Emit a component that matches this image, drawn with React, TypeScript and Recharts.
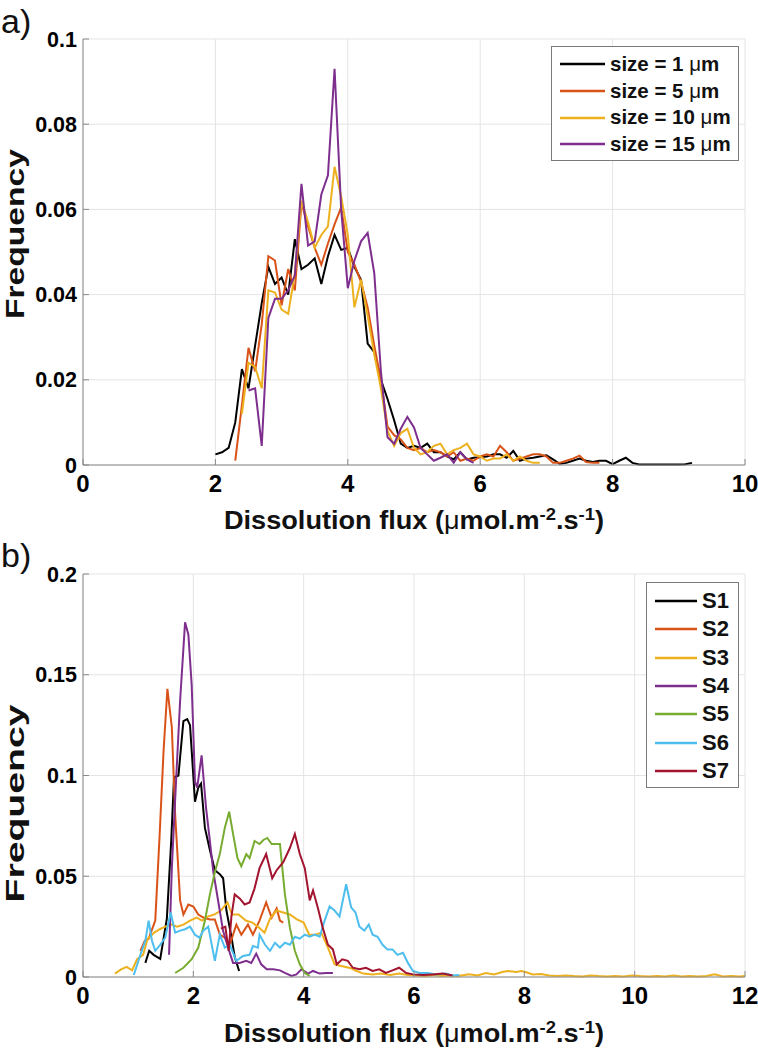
import React from 'react';
import { LineChart, Line, XAxis, YAxis, CartesianGrid, Legend } from 'recharts';

const FONT = '"Liberation Sans", Arial, Helvetica, sans-serif';
const AXIS = '#8a8a8a';
const GRID = '#e4e4e4';

// ---------- Panel a ----------
const fluxTicksA = [0, 2, 4, 6, 8, 10];
const freqTicksA = [0, 0.02, 0.04, 0.06, 0.08, 0.1];
const freqTickLabelsA = ['0', '0.02', '0.04', '0.06', '0.08', '0.1'];

const binsA = [
  2.0, 2.1, 2.2, 2.3, 2.4, 2.5, 2.6, 2.7, 2.8, 2.9,
  3.0, 3.1, 3.2, 3.3, 3.4, 3.5, 3.6, 3.7, 3.8, 3.9,
  4.0, 4.1, 4.2, 4.3, 4.4, 4.5, 4.6, 4.7, 4.8, 4.9,
  5.0, 5.1, 5.2, 5.3, 5.4, 5.5, 5.6, 5.7, 5.8, 5.9,
  6.0, 6.1, 6.2, 6.3, 6.4, 6.5, 6.6, 6.7, 6.8, 6.9,
  7.0, 7.1, 7.2, 7.3, 7.4, 7.5, 7.6, 7.7, 7.8, 7.9,
  8.0, 8.1, 8.2, 8.3, 8.4, 8.5, 8.6, 8.7, 8.8, 8.9,
  9.0, 9.1, 9.2,
];

const size1From = 2.0;
const size1 = [
  0.0025, 0.003, 0.004, 0.01, 0.0225, 0.018, 0.028, 0.038, 0.0465, 0.0425,
  0.044, 0.04, 0.053, 0.046, 0.047, 0.0485, 0.0425, 0.049, 0.054, 0.0505,
  0.051, 0.0465, 0.0435, 0.0285, 0.0265, 0.02, 0.0155, 0.0105, 0.005, 0.004,
  0.0045, 0.004, 0.005, 0.003, 0.003, 0.002, 0.0013, 0.003, 0.0013, 0.0017,
  0.0018, 0.002, 0.0025, 0.0025, 0.0017, 0.0033, 0.001, 0.0015, 0.0017, 0.002,
  0.0023, 0.0013, 0.0003, 0.0005, 0.001, 0.0015, 0.001, 0.0007, 0.001, 0.001,
  0.0002, 0.001, 0.0017, 0.0005, 0.0001, 0.0001, 0.0001, 0.0001, 0.0001, 0.0001,
  0.0001, 0.0002, 0.0005,
];

const size5From = 2.3;
const size5 = [
  0.001, 0.014, 0.0275, 0.022, 0.033, 0.049, 0.048,
  0.0375, 0.046, 0.041, 0.0615, 0.056, 0.051, 0.047, 0.052, 0.0565, 0.0605,
  0.05, 0.047, 0.043, 0.037, 0.028, 0.02, 0.009, 0.007, 0.006, 0.004,
  0.0035, 0.004, 0.003, 0.0035, 0.003, 0.002, 0.003, 0.001, 0.0015, 0.001,
  0.002, 0.0025, 0.002, 0.0045, 0.003, 0.001, 0.0015, 0.002, 0.0025, 0.0025,
  0.002, 0.0005, 0.0005, 0.001, 0.0015, 0.0022, 0.0007, 0.0005, 0.0005,
];

const size10From = 2.4;
const size10 = [
  0.012, 0.024, 0.023, 0.018, 0.041, 0.0405,
  0.0365, 0.0355, 0.045, 0.062, 0.057, 0.051, 0.054, 0.056, 0.07, 0.063,
  0.054, 0.037, 0.0435, 0.035, 0.026, 0.018, 0.008, 0.0045, 0.0075, 0.0085,
  0.004, 0.0025, 0.003, 0.0045, 0.005, 0.0025, 0.0035, 0.004, 0.005, 0.0025,
  0.002, 0.001, 0.0015, 0.0015, 0.0025, 0.001, 0.002, 0.001, 0.0005, 0.0005,
];

const size15From = 2.5;
const size15 = [
  0.0175, 0.018, 0.0045, 0.0345, 0.039,
  0.039, 0.041, 0.0445, 0.066, 0.0515, 0.0525, 0.0635, 0.068, 0.093, 0.06,
  0.0415, 0.048, 0.0525, 0.0545, 0.045, 0.022, 0.0065, 0.005, 0.0085, 0.0113,
  0.0088, 0.004, 0.0025, 0.001, 0.0017, 0.0025, 0.0005, 0.003, 0.0013, 0.0005,
];

const seriesA = [
  { key: 's1', name: 'size = 1 μm', color: '#000000', values: size1, from: size1From },
  { key: 's5', name: 'size = 5 μm', color: '#D95319', values: size5, from: size5From },
  { key: 's10', name: 'size = 10 μm', color: '#EDB120', values: size10, from: size10From },
  { key: 's15', name: 'size = 15 μm', color: '#7E2F8E', values: size15, from: size15From },
];

const tableA = binsA.map((flux, i) => {
  const row: any = { flux };
  seriesA.forEach((s) => {
    const k = i - Math.round((s.from - binsA[0]) * 10);
    row[s.key] = k >= 0 && k < s.values.length ? s.values[k] : null;
  });
  return row;
});

// ---------- Panel b ----------
const fluxTicksB = [0, 2, 4, 6, 8, 10, 12];
const freqTicksB = [0, 0.05, 0.1, 0.15, 0.2];
const freqTickLabelsB = ['0', '0.05', '0.1', '0.15', '0.2'];

// [flux, frequency]
const s1 = [
  [1.13, 0.007], [1.2, 0.013], [1.28, 0.011], [1.4, 0.009], [1.52, 0.029], [1.6, 0.068],
  [1.65, 0.099], [1.73, 0.1], [1.82, 0.127], [1.89, 0.128], [1.94, 0.125], [2.03, 0.087],
  [2.09, 0.094], [2.14, 0.096], [2.21, 0.074], [2.3, 0.063], [2.39, 0.053], [2.48, 0.051],
  [2.54, 0.049], [2.6, 0.033], [2.69, 0.02], [2.75, 0.01], [2.83, 0.003],
];
const s2 = [
  [1.04, 0.013], [1.12, 0.018], [1.19, 0.019], [1.31, 0.028], [1.39, 0.071], [1.46, 0.112],
  [1.53, 0.143], [1.61, 0.124], [1.67, 0.081], [1.76, 0.038], [1.82, 0.031], [1.91, 0.036],
  [2.0, 0.035], [2.09, 0.031], [2.18, 0.0295], [2.3, 0.0285], [2.39, 0.0285], [2.48, 0.021],
  [2.57, 0.0195], [2.66, 0.016], [2.78, 0.026], [2.87, 0.021], [2.99, 0.026], [3.08, 0.021],
  [3.2, 0.028], [3.32, 0.037], [3.42, 0.0295], [3.51, 0.034], [3.57, 0.028], [3.63, 0.027],
];
const s3 = [
  [0.58, 0.0017], [0.69, 0.0038], [0.79, 0.005], [0.89, 0.0033], [0.98, 0.0088], [1.09, 0.011],
  [1.17, 0.019], [1.29, 0.022], [1.39, 0.0237], [1.49, 0.025], [1.6, 0.026], [1.71, 0.025],
  [1.82, 0.026], [1.94, 0.028], [2.06, 0.0295], [2.16, 0.028], [2.26, 0.03], [2.38, 0.031],
  [2.5, 0.033], [2.62, 0.037], [2.7, 0.031], [2.82, 0.031], [2.95, 0.028], [3.07, 0.027],
  [3.19, 0.0245], [3.29, 0.022], [3.39, 0.029], [3.51, 0.033], [3.63, 0.032], [3.75, 0.031],
  [3.87, 0.0287], [4.0, 0.027], [4.1, 0.021], [4.21, 0.021], [4.32, 0.022], [4.44, 0.0146],
  [4.56, 0.0063], [4.68, 0.0055], [4.84, 0.0045], [4.96, 0.003], [5.08, 0.0017], [5.25, 0.0013],
  [5.4, 0.0017], [5.57, 0.001], [5.73, 0.0017], [5.89, 0.001], [6.05, 0.0008], [6.2, 0.0005],
  [6.35, 0.001], [6.5, 0.0005], [6.65, 0.0008], [6.8, 0.0005], [7.0, 0.0013], [7.15, 0.0008],
  [7.3, 0.002], [7.45, 0.0013], [7.6, 0.0025], [7.7, 0.003], [7.85, 0.0025], [7.95, 0.003],
  [8.05, 0.0022], [8.15, 0.0013], [8.3, 0.0015], [8.45, 0.0008], [8.6, 0.0005], [8.75, 0.0008],
  [8.9, 0.0005], [9.05, 0.0003], [9.2, 0.0008], [9.35, 0.0005], [9.5, 0.0003], [9.65, 0.0005],
  [9.8, 0.0003], [9.95, 0.0008], [10.1, 0.0005], [10.25, 0.0003], [10.4, 0.0005], [10.55, 0.0003],
  [10.7, 0.0008], [10.85, 0.0003], [11.0, 0.0005], [11.15, 0.0003], [11.3, 0.0005], [11.45, 0.0013],
  [11.6, 0.0003], [11.75, 0.0005], [11.9, 0.0003], [12.0, 0.0005],
];
const s4 = [
  [1.56, 0.011], [1.61, 0.054], [1.69, 0.099], [1.76, 0.137], [1.85, 0.176], [1.91, 0.17],
  [1.97, 0.145], [2.03, 0.097], [2.07, 0.094], [2.15, 0.11], [2.23, 0.084], [2.3, 0.0675],
  [2.36, 0.0526], [2.45, 0.0377], [2.54, 0.0228], [2.63, 0.0146], [2.72, 0.007], [2.84, 0.007],
  [2.96, 0.008], [3.05, 0.007], [3.14, 0.0116], [3.23, 0.0063], [3.33, 0.0038], [3.45, 0.0038],
  [3.57, 0.0033], [3.66, 0.002], [3.78, 0.0005], [3.87, 0.0013], [3.96, 0.0038], [4.08, 0.0017],
  [4.17, 0.003], [4.29, 0.0017], [4.41, 0.002], [4.53, 0.002],
];
const s5 = [
  [1.67, 0.002], [1.82, 0.0046], [1.97, 0.0088], [2.09, 0.0146], [2.21, 0.028], [2.3, 0.041],
  [2.39, 0.052], [2.48, 0.061], [2.57, 0.074], [2.65, 0.082], [2.72, 0.071], [2.8, 0.059],
  [2.87, 0.055], [2.96, 0.061], [3.02, 0.059], [3.11, 0.0675], [3.2, 0.066], [3.27, 0.068],
  [3.34, 0.069], [3.42, 0.066], [3.51, 0.066], [3.57, 0.066], [3.66, 0.041], [3.75, 0.0245],
  [3.84, 0.013], [3.93, 0.0063], [4.02, 0.002], [4.11, 0.0005],
];
const s6 = [
  [0.92, 0.001], [1.04, 0.011], [1.13, 0.018], [1.19, 0.028], [1.25, 0.018], [1.31, 0.013],
  [1.4, 0.016], [1.49, 0.0195], [1.59, 0.032], [1.67, 0.022], [1.76, 0.023], [1.85, 0.0237],
  [1.94, 0.025], [2.03, 0.021], [2.11, 0.0195], [2.18, 0.023], [2.27, 0.025], [2.39, 0.008],
  [2.48, 0.021], [2.57, 0.0146], [2.66, 0.016], [2.78, 0.008], [2.9, 0.0104], [3.02, 0.011],
  [3.08, 0.0154], [3.17, 0.0146], [3.2, 0.021], [3.3, 0.016], [3.39, 0.013], [3.48, 0.017],
  [3.57, 0.0146], [3.66, 0.017], [3.75, 0.016], [3.84, 0.02], [3.93, 0.019], [4.02, 0.021],
  [4.11, 0.02], [4.2, 0.021], [4.29, 0.02], [4.38, 0.028], [4.47, 0.035], [4.56, 0.033],
  [4.65, 0.03], [4.77, 0.046], [4.86, 0.0346], [4.94, 0.032], [5.01, 0.025], [5.1, 0.023],
  [5.18, 0.026], [5.25, 0.021], [5.34, 0.02], [5.43, 0.016], [5.52, 0.0137], [5.61, 0.0137],
  [5.7, 0.011], [5.8, 0.012], [5.89, 0.007], [5.98, 0.003], [6.1, 0.002], [6.25, 0.002],
  [6.4, 0.0013], [6.58, 0.0017], [6.7, 0.0007], [6.82, 0.001],
];
const s7 = [
  [2.5, 0.024], [2.58, 0.025], [2.64, 0.013], [2.69, 0.03], [2.75, 0.041], [2.84, 0.039],
  [2.93, 0.036], [3.02, 0.037], [3.11, 0.044], [3.2, 0.054], [3.32, 0.061], [3.43, 0.049],
  [3.51, 0.053], [3.63, 0.057], [3.75, 0.064], [3.84, 0.071], [3.93, 0.061], [4.02, 0.054],
  [4.11, 0.038], [4.17, 0.043], [4.26, 0.034], [4.35, 0.024], [4.44, 0.016], [4.53, 0.0137],
  [4.6, 0.0063], [4.7, 0.0088], [4.8, 0.008], [4.89, 0.0046], [5.01, 0.0038], [5.13, 0.0046],
  [5.25, 0.003], [5.37, 0.0038], [5.49, 0.002], [5.61, 0.0033], [5.73, 0.0046], [5.86, 0.002],
  [5.98, 0.0013], [6.16, 0.001], [6.34, 0.0013], [6.52, 0.0017], [6.7, 0.0007],
];

const seriesB = [
  { name: 'S1', color: '#000000', points: s1 },
  { name: 'S2', color: '#D95319', points: s2 },
  { name: 'S3', color: '#EDB120', points: s3 },
  { name: 'S4', color: '#7E2F8E', points: s4 },
  { name: 'S5', color: '#77AC30', points: s5 },
  { name: 'S6', color: '#4DBEEE', points: s6 },
  { name: 'S7', color: '#A2142F', points: s7 },
];

// ---------- helpers ----------
const tickStyleX = { fill: '#000', fontSize: 24, fontWeight: 'bold' as const, fontFamily: FONT };
const tickStyleY = { fill: '#000', fontSize: 21.5, fontWeight: 'bold' as const, fontFamily: FONT };

const XTitle = (props: any) => {
  const { viewBox, dyBase } = props;
  const cx = viewBox.x + viewBox.width / 2;
  const y = viewBox.y + dyBase;
  return (
    <text x={cx} y={y} textAnchor="middle" fontFamily={FONT} fontWeight="bold" fontSize={25} fill="#111"
      textLength={380} lengthAdjust="spacingAndGlyphs">
      Dissolution flux (<tspan fontWeight="normal">μ</tspan>mol.m
      <tspan dy={-9} fontSize={17}>-2</tspan>
      <tspan dy={9}>.s</tspan>
      <tspan dy={-9} fontSize={17}>-1</tspan>
      <tspan dy={9}>)</tspan>
    </text>
  );
};

// centerShift: offset of the title centre from the plot centre; len: drawn length
const YTitle = (props: any) => {
  const { viewBox, centerShift = 0, len = 175 } = props;
  const x = viewBox.x + 15;
  const y = viewBox.y + viewBox.height / 2 + centerShift;
  return (
    <text x={x} y={y} transform={`rotate(-90 ${x} ${y})`} textAnchor="middle" dominantBaseline="central"
      fontFamily={FONT} fontWeight="bold" fontSize={25} fill="#111" textLength={len} lengthAdjust="spacingAndGlyphs">
      Frequency
    </text>
  );
};

const renderName = (name: string) => {
  const parts = name.split('μ');
  if (parts.length === 1) return name;
  return (
    <>
      {parts[0]}
      <span style={{ fontWeight: 'normal' }}>μ</span>
      {parts[1]}
    </>
  );
};

const makeLegend = (
  items: { name: string; color: string }[],
  opts: { rowH: number; lineW: number; fontSize: number; width: number; padTop: number }
) =>
  () => (
    <div
      style={{
        border: '1px solid #7a7a7a',
        background: '#fff',
        width: opts.width,
        boxSizing: 'border-box',
        padding: `${opts.padTop}px 4px 2px 8px`,
      }}
    >
      {items.map((p) => (
        <div key={p.name} style={{ display: 'flex', alignItems: 'center', height: opts.rowH }}>
          <svg width={opts.lineW} height={6} style={{ flex: 'none' }}>
            <line x1={0} y1={3} x2={opts.lineW} y2={3} stroke={p.color} strokeWidth={2.5} />
          </svg>
          <span
            style={{
              marginLeft: 5,
              fontFamily: FONT,
              fontWeight: 'bold',
              fontSize: opts.fontSize,
              color: '#111',
              whiteSpace: 'nowrap',
              lineHeight: 1,
            }}
          >
            {renderName(p.name)}
          </span>
        </div>
      ))}
    </div>
  );

const LegendA = makeLegend(seriesA, { rowH: 26.7, lineW: 45, fontSize: 20.5, width: 188, padTop: 4 });
const LegendB = makeLegend(seriesB, { rowH: 28.3, lineW: 42, fontSize: 22, width: 93, padTop: 4 });

const panelLabel = (text: string, top: number) => (
  <div
    style={{
      position: 'absolute',
      left: 1,
      top,
      fontFamily: FONT,
      fontSize: 34,
      lineHeight: 1,
      color: '#111',
    }}
  >
    {text}
  </div>
);

export default function App() {
  return (
    <div style={{ position: 'absolute', left: 0, top: 0, width: 758, height: 1050, background: '#fff', overflow: 'hidden' }}>
      <div style={{ position: 'absolute', left: 0, top: 0 }}>
        <LineChart width={758} height={545} data={tableA} margin={{ top: 39, right: 13, bottom: 15, left: 0 }}>
          <CartesianGrid stroke={GRID} />
          <XAxis
            dataKey="flux"
            type="number"
            domain={[0, 10]}
            ticks={fluxTicksA}
            interval={0}
            height={65}
            stroke={AXIS}
            tickSize={-6}
            tickMargin={16}
            tick={tickStyleX}
            label={<XTitle dyBase={64} />}
          />
          <XAxis xAxisId="top" orientation="top" type="number" domain={[0, 10]} ticks={fluxTicksA} interval={0}
            height={0} stroke={AXIS} tickSize={-6} tick={false} />
          <YAxis
            type="number"
            domain={[0, 0.1]}
            ticks={freqTicksA}
            interval={0}
            width={83}
            stroke={AXIS}
            tickSize={-6}
            tickMargin={12}
            tick={tickStyleY}
            tickFormatter={(v: number) => freqTickLabelsA[freqTicksA.indexOf(v)] ?? String(v)}
            label={<YTitle centerShift={-18} len={170} />}
          />
          <YAxis yAxisId="right" orientation="right" type="number" domain={[0, 0.1]} ticks={freqTicksA} interval={0}
            width={0} stroke={AXIS} tickSize={-6} tick={false} />
          <Legend
            layout="vertical"
            align="center"
            verticalAlign="middle"
            content={LegendA}
            wrapperStyle={{ left: 551, top: 46, width: 188, height: 'auto' }}
          />
          {seriesA.map((s) => (
            <Line
              key={s.key}
              dataKey={s.key}
              name={s.name}
              stroke={s.color}
              strokeWidth={2}
              dot={false}
              activeDot={false}
              isAnimationActive={false}
              type="linear"
            />
          ))}
        </LineChart>
      </div>
      <div style={{ position: 'absolute', left: 0, top: 530 }}>
        <LineChart width={758} height={520} margin={{ top: 44, right: 13, bottom: 0, left: 0 }}>
          <CartesianGrid stroke={GRID} />
          <XAxis
            dataKey="flux"
            type="number"
            domain={[0, 12]}
            ticks={fluxTicksB}
            interval={0}
            height={73}
            stroke={AXIS}
            tickSize={-6}
            tickMargin={16}
            tick={tickStyleX}
            allowDataOverflow
            label={<XTitle dyBase={65} />}
          />
          <XAxis xAxisId="top" orientation="top" type="number" domain={[0, 12]} ticks={fluxTicksB} interval={0}
            height={0} stroke={AXIS} tickSize={-6} tick={false} />
          <YAxis
            type="number"
            domain={[0, 0.2]}
            ticks={freqTicksB}
            interval={0}
            width={83}
            stroke={AXIS}
            tickSize={-6}
            tickMargin={12}
            tick={tickStyleY}
            tickFormatter={(v: number) => freqTickLabelsB[freqTicksB.indexOf(v)] ?? String(v)}
            label={<YTitle centerShift={28} len={198} />}
          />
          <YAxis yAxisId="right" orientation="right" type="number" domain={[0, 0.2]} ticks={freqTicksB} interval={0}
            width={0} stroke={AXIS} tickSize={-6} tick={false} />
          <Legend
            layout="vertical"
            align="center"
            verticalAlign="middle"
            content={LegendB}
            wrapperStyle={{ left: 646, top: 52, width: 93, height: 'auto' }}
          />
          {seriesB.map((s) => (
            <Line
              key={s.name}
              data={s.points.map(([flux, freq]) => ({ flux, freq }))}
              dataKey="freq"
              name={s.name}
              stroke={s.color}
              strokeWidth={2}
              dot={false}
              activeDot={false}
              isAnimationActive={false}
              type="linear"
            />
          ))}
        </LineChart>
      </div>
      {panelLabel('a)', 4)}
      {panelLabel('b)', 538)}
    </div>
  );
}
